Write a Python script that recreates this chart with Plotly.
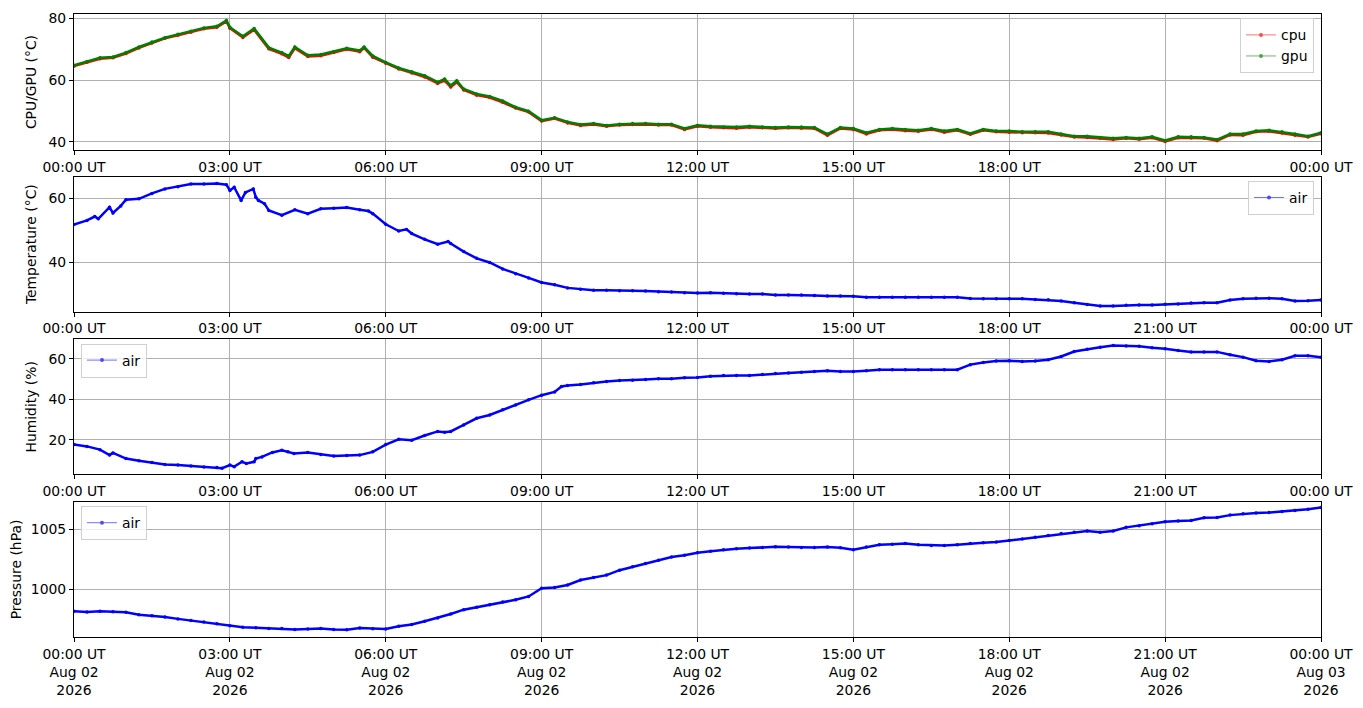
"""
Sensor log for one day: CPU/GPU, air temperature, humidity, pressure.
Four stacked panels in the style of a matplotlib dashboard.
"""

import pandas as pd
import plotly.graph_objects as go
from plotly.subplots import make_subplots

DAY = pd.Timestamp("2026-08-02 00:00")
GRID_PM = list(range(735, 1441, 15))  # 12:15 .. 24:00, every 15 min

# --- CPU / GPU temperature (degC), minutes after midnight ---
chip_min = [0, 15, 30, 45, 60, 75, 90, 105, 120, 135, 150, 165, 176, 180, 195, 208,
            225, 240, 248, 255, 270, 285, 300, 315, 330, 335, 345, 360, 375, 390, 405,
            420, 428, 435, 442, 450, 465, 480, 495, 510, 525, 540, 555, 570, 585, 600,
            615, 630, 645, 660, 675, 690, 705, 720] + GRID_PM
gpu_temp = [64.8, 66.0, 67.2, 67.5, 68.9, 70.7, 72.3, 73.7, 74.8, 75.8, 76.9, 77.4, 79.3,
            77.1, 74.2, 76.7, 70.5, 68.9, 67.8, 70.7, 68.0, 68.3, 69.2, 70.3, 69.6, 70.7,
            67.8, 65.7, 63.9, 62.7, 61.4, 59.3, 60.3, 58.2, 59.8, 57.1, 55.5, 54.7, 53.2,
            51.2, 49.9, 47.0, 47.8, 46.4, 45.6, 45.9, 45.3, 45.7, 45.9, 45.9, 45.7, 45.7,
            44.3, 45.3,
            45.0, 44.8, 44.8, 45.0, 44.8, 44.6, 44.8, 44.8, 44.6, 42.5, 44.6, 44.3, 42.9,
            44.0, 44.3, 44.0, 43.7, 44.3, 43.5, 44.0, 42.7, 44.0, 43.5, 43.5, 43.2, 43.2,
            43.2, 42.5, 41.8, 41.8, 41.4, 41.1, 41.4, 41.1, 41.6, 40.4, 41.6, 41.6, 41.4,
            40.7, 42.5, 42.5, 43.5, 43.7, 43.2, 42.5, 41.8, 42.9]
cpu_temp = [64.5, 65.8, 66.9, 67.2, 68.6, 70.4, 72.0, 73.5, 74.5, 75.5, 76.6, 77.1, 79.0,
            76.8, 73.8, 76.3, 70.1, 68.5, 67.3, 70.3, 67.6, 67.9, 68.9, 70.0, 69.2, 70.4,
            67.4, 65.4, 63.6, 62.3, 61.0, 58.9, 59.8, 57.7, 59.3, 56.8, 55.1, 54.3, 52.8,
            50.9, 49.6, 46.7, 47.5, 46.1, 45.3, 45.6, 45.0, 45.4, 45.6, 45.6, 45.4, 45.4,
            44.0, 45.0,
            44.7, 44.5, 44.4, 44.7, 44.5, 44.3, 44.5, 44.4, 44.3, 42.1, 44.3, 44.0, 42.5,
            43.7, 44.0, 43.6, 43.4, 44.0, 43.1, 43.7, 42.4, 43.7, 43.2, 43.1, 42.9, 42.9,
            42.8, 42.2, 41.5, 41.4, 41.1, 40.7, 41.1, 40.8, 41.3, 40.1, 41.3, 41.2, 41.1,
            40.3, 42.2, 42.1, 43.2, 43.4, 42.8, 42.1, 41.5, 42.6]

# --- air temperature (degC) ---
air_t_min = [0, 15, 24, 28, 41, 45, 54, 60, 75, 90, 105, 120, 135, 150, 165, 176, 180,
             185, 193, 198, 207, 210, 213, 220, 225, 240, 255, 270, 285, 300, 315, 330,
             340, 345, 360, 375, 384, 390, 405, 420, 432, 435, 450, 465, 480, 495, 510,
             525, 540, 555, 570, 585, 600, 615, 630, 645, 660, 675, 690, 705, 720] + GRID_PM
air_temp = [51.8, 53.1, 54.3, 53.6, 57.2, 55.4, 57.6, 59.5, 59.8, 61.5, 62.9, 63.6, 64.4,
            64.4, 64.6, 64.2, 62.4, 63.4, 59.3, 61.8, 62.9, 60.3, 59.3, 58.3, 56.2, 54.7,
            56.4, 55.2, 56.7, 56.9, 57.1, 56.4, 56.0, 55.2, 51.9, 49.8, 50.3, 49.0, 47.2,
            45.7, 46.5, 45.9, 43.4, 41.3, 40.0, 38.0, 36.5, 35.2, 33.8, 33.1, 32.1, 31.7,
            31.4, 31.4, 31.2, 31.2, 31.1, 30.9, 30.8, 30.6, 30.5,
            30.6, 30.4, 30.3, 30.2, 30.2, 29.9, 29.9, 29.9, 29.7, 29.6, 29.6, 29.5,
            29.2, 29.2, 29.2, 29.2, 29.2, 29.2, 29.2, 29.2,
            28.8, 28.7, 28.7, 28.7, 28.7, 28.5, 28.4, 28.0, 27.5, 26.9, 26.5, 26.5, 26.7,
            26.8, 26.8, 27.0, 27.1, 27.4, 27.5, 27.5, 28.3, 28.7, 28.9, 28.9, 28.7, 28.0,
            28.1, 28.3]

# --- humidity (%) ---
hum_min = [0, 15, 30, 41, 45, 60, 75, 90, 105, 120, 135, 150, 165, 171, 180, 185, 194,
           199, 208, 210, 217, 229, 240, 247, 254, 270, 285, 300, 315, 330, 345, 360, 375,
           390, 405, 420, 428, 435, 450, 465, 480, 495, 510, 525, 540, 555, 563, 570, 585,
           600, 615, 630, 645, 660, 675, 690, 705, 720] + GRID_PM
humidity = [17.6, 16.7, 15.1, 12.4, 13.5, 10.7, 9.6, 8.8, 7.8, 7.5, 7.0, 6.5, 6.3, 5.9,
            7.5, 6.7, 9.1, 8.3, 9.1, 10.7, 11.5, 13.7, 14.8, 14.0, 13.2, 13.7, 12.7, 12.0,
            12.2, 12.4, 14.0, 17.6, 20.2, 19.8, 22.1, 24.1, 23.7, 24.1, 27.3, 30.6, 32.2,
            34.8, 37.2, 39.7, 42.0, 43.6, 46.3, 46.8, 47.3, 48.1, 48.8, 49.3, 49.4, 49.8,
            50.1, 50.1, 50.6, 50.7,
            51.4, 51.7, 51.7, 51.7, 52.2, 52.7, 53.0, 53.3, 53.7, 54.1, 53.7, 53.7, 54.1,
            54.6, 54.6, 54.6, 54.6, 54.6, 54.6, 54.6,
            57.1, 58.2, 58.9, 59.0, 58.7, 58.9, 59.5, 61.1, 63.6, 64.7, 65.7, 66.5, 66.3,
            66.2, 65.5, 65.0, 64.1, 63.4, 63.3, 63.4, 62.0, 60.8, 59.0, 58.7, 59.5, 61.5,
            61.5, 60.8]

# --- pressure (hPa), every 15 min ---
press_min = list(range(0, 1441, 15))
pressure = [998.16, 998.10, 998.16, 998.13, 998.08, 997.88, 997.80, 997.69, 997.53,
            997.39, 997.28, 997.12, 996.95, 996.84, 996.79, 996.73, 996.73, 996.65,
            996.68, 996.73, 996.65, 996.62, 996.76, 996.70, 996.68, 996.92, 997.06,
            997.33, 997.61, 997.94, 998.30, 998.49, 998.71, 998.93, 999.12, 999.40,
            1000.08, 1000.14, 1000.36, 1000.77, 1000.99, 1001.18, 1001.59, 1001.87,
            1002.14, 1002.42, 1002.69, 1002.83, 1003.05,
            1003.16, 1003.30, 1003.38, 1003.43, 1003.49, 1003.54, 1003.52, 1003.49,
            1003.49, 1003.52, 1003.46, 1003.30, 1003.52, 1003.71, 1003.76, 1003.82,
            1003.71, 1003.65, 1003.65, 1003.71, 1003.82, 1003.87, 1003.93, 1004.07,
            1004.20, 1004.34, 1004.48, 1004.64, 1004.75, 1004.86, 1004.75, 1004.86,
            1005.16, 1005.30, 1005.47, 1005.63, 1005.69, 1005.74, 1005.96, 1005.99,
            1006.18, 1006.29, 1006.35, 1006.40, 1006.48, 1006.57, 1006.68, 1006.81]

# --- x ticks ---
tick_hours = [0, 3, 6, 9, 12, 15, 18, 21, 24]
tick_text = ["00:00 UT", "03:00 UT", "06:00 UT", "09:00 UT", "12:00 UT",
             "15:00 UT", "18:00 UT", "21:00 UT", "00:00 UT"]
tick_date = ["Aug 02", "Aug 02", "Aug 02", "Aug 02", "Aug 02",
             "Aug 02", "Aug 02", "Aug 02", "Aug 03"]


def to_time(minutes):
    return DAY + pd.to_timedelta(minutes, unit="m")


FONT = "DejaVu Sans"
FS = 13.9
GRID = "#b0b0b0"

fig = make_subplots(rows=4, cols=1)


def add_series(row, minutes, values, name, color, legend):
    fig.add_trace(go.Scatter(
        x=to_time(minutes), y=values, mode="lines+markers", name=name,
        line=dict(color=color, width=2.5), marker=dict(color=color, size=3.5),
        showlegend=False, hoverinfo="x+y"), row=row, col=1)
    # legend entry drawn like matplotlib's thin line with a dot
    fig.add_trace(go.Scatter(
        x=[None], y=[None], mode="lines+markers", name=name, legend=legend,
        line=dict(color=color, width=0.8), marker=dict(color=color, size=4),
        opacity=0.7), row=row, col=1)


add_series(1, chip_min, cpu_temp, "cpu", "#ff0000", "legend")
add_series(1, chip_min, gpu_temp, "gpu", "#008000", "legend")
add_series(2, air_t_min, air_temp, "air", "#0000ff", "legend2")
add_series(3, hum_min, humidity, "air", "#0000ff", "legend3")
add_series(4, press_min, pressure, "air", "#0000ff", "legend4")

# panel geometry (paper fractions of the plot area)
y_domains = [[0.7816, 1.0], [0.5222, 0.7389], [0.2611, 0.4778], [0.0, 0.2168]]
y_ranges = [[37.3, 81.4], [24.7, 66.7], [2.9, 69.6], [996.02, 1007.28]]
y_dticks = [20, 20, 20, 5]
y_titles = ["CPU/GPU (°C)", "Temperature (°C)", "Humidity (%)", "Pressure (hPa)"]

tick_times = to_time([h * 60 for h in tick_hours])
bottom_text = [f"{t}<br>{d}<br>2026" for t, d in zip(tick_text, tick_date)]

for i in range(4):
    sfx = "" if i == 0 else str(i + 1)
    fig.layout["xaxis" + sfx].update(
        range=[tick_times[0], tick_times[-1]], tickvals=tick_times,
        ticktext=bottom_text if i == 3 else tick_text,
        showgrid=True, gridcolor=GRID, gridwidth=0.8, zeroline=False,
        showline=True, mirror=True, linecolor="black", linewidth=1,
        ticks="outside", ticklen=4, tickcolor="black", ticklabeloverflow="allow",
        tickfont=dict(family=FONT, size=FS, color="black"), domain=[0, 1])
    fig.layout["yaxis" + sfx].update(
        range=y_ranges[i], dtick=y_dticks[i], tick0=0, domain=y_domains[i],
        showgrid=True, gridcolor=GRID, gridwidth=0.8, zeroline=False,
        showline=True, mirror=True, linecolor="black", linewidth=1,
        ticks="outside", ticklen=4, tickcolor="black", ticklabeloverflow="allow",
        tickfont=dict(family=FONT, size=FS, color="black"),
        title=dict(text=y_titles[i], standoff=8,
                   font=dict(family=FONT, size=FS, color="black")))

legend_style = dict(font=dict(family=FONT, size=FS, color="black"),
                    bgcolor="rgba(255,255,255,0.8)", bordercolor="#d0d0d0",
                    borderwidth=1, tracegroupgap=0, itemwidth=30)

# the page adds an 8px body margin, so the figure is shrunk and shifted by it
fig.update_layout(
    width=1347, height=692,
    margin=dict(l=66, r=33, t=2, b=58),
    paper_bgcolor="white", plot_bgcolor="white",
    font=dict(family=FONT, size=FS, color="black"),
    legend=dict(x=0.9944, y=0.993, xanchor="right", yanchor="top", **legend_style),
    legend2=dict(x=0.9944, y=0.732, xanchor="right", yanchor="top", **legend_style),
    legend3=dict(x=0.0056, y=0.471, xanchor="left", yanchor="top", **legend_style),
    legend4=dict(x=0.0056, y=0.210, xanchor="left", yanchor="top", **legend_style),
)

fig.write_html("out.html")
